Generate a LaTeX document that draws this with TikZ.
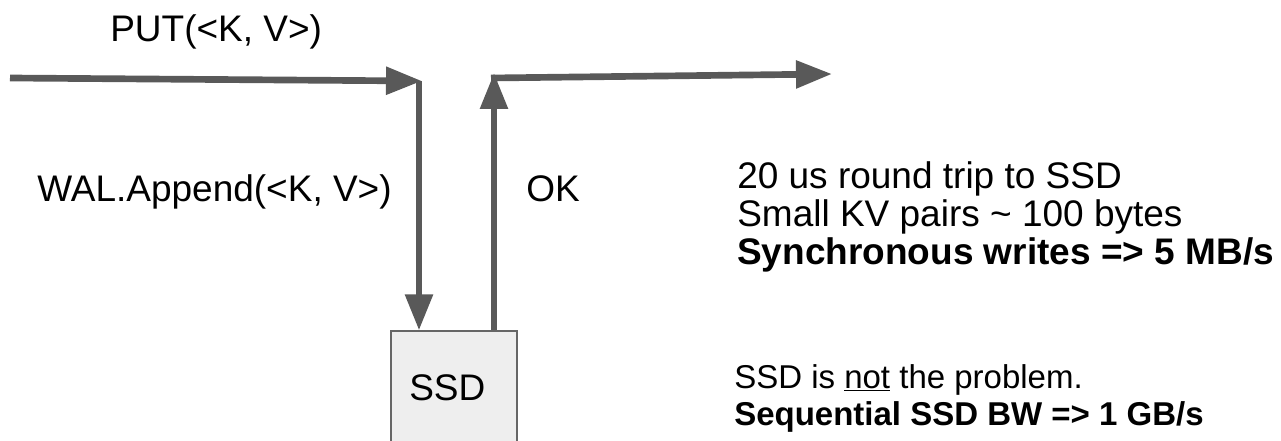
\documentclass[tikz,border=0pt]{standalone}
\usepackage{fontspec}
\setmainfont{Liberation Sans}
\usetikzlibrary{arrows.meta,positioning}
\definecolor{flowgray}{HTML}{595959}
\definecolor{boxgray}{HTML}{EEEEEE}
\definecolor{edgegray}{HTML}{666666}
\begin{document}
\begin{tikzpicture}[x=0.75pt,y=-0.75pt,
    flow/.style={draw=flowgray, line width=5pt, -{Triangle[length=27pt,width=20pt]}},
    lbl/.style={font=\fontsize{27.75}{28.5}\selectfont, inner sep=0pt, anchor=base west},
    note/.style={lbl, font=\fontsize{24.75}{28.5}\selectfont},
    disk/.style={draw=edgegray, fill=boxgray, line width=0.9pt, minimum width=94.5pt,
      minimum height=97.5pt}]
  \useasboundingbox (0,0) rectangle (1281,441);
  % storage
  \node[disk] (ssd) at (454,396) {};
  \node[lbl] (ssdname) at (409,401) {SSD};
  % path points
  \coordinate (in) at (10,78);
  \coordinate (junction) at (422,81);
  \coordinate (turn) at (494,73);
  \coordinate (outstart) at (491,78);
  \coordinate (out) at (832,74);
  % arrows
  \draw[flow] (in) -- (junction);
  \draw[flow] (junction -| 419,0) -- (ssd.north -| 419,0);
  \draw[flow] (ssd.north -| turn) -- (turn);
  \draw[flow] (outstart) -- (out);
  % labels
  \node[lbl] (put) at (110,42) {PUT(<K, V>)};
  \node[lbl] (wal) at (37,202) {WAL.Append(<K, V>)};
  \node[lbl] (ok) at (526,202) {OK};
  \node[lbl] (trip) at (737,189) {20 us round trip to SSD};
  \node[lbl] (pairs) at (737,227) {Small KV pairs \textasciitilde{} 100 bytes};
  \node[lbl] (syncrate) at (737,265) {\bfseries Synchronous writes => 5 MB/s};
  \node[note] (notssd) at (734,388) {SSD is \underline{not} the problem.};
  \node[note] (seqrate) at (734,426) {\bfseries Sequential SSD BW => 1 GB/s};
\end{tikzpicture}
\end{document}
